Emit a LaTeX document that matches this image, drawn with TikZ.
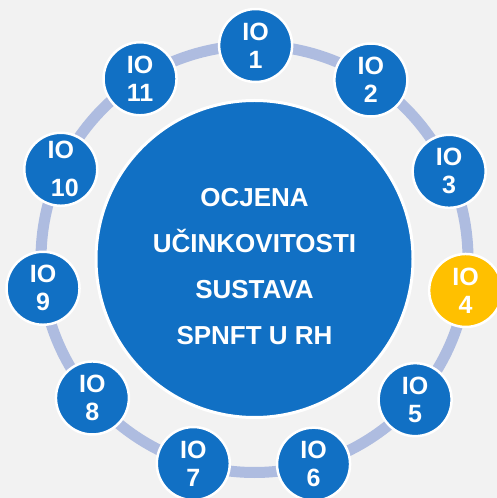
\documentclass[tikz,border=0pt]{standalone}
\usepackage{fontspec}
\setmainfont{Liberation Sans}
\definecolor{bg}{RGB}{242,242,242}
\definecolor{ioblue}{RGB}{17,112,196}
\definecolor{ioyellow}{RGB}{255,192,0}
\definecolor{ringblue}{RGB}{174,188,224}

\begin{document}
\begin{tikzpicture}[x=1pt,y=1pt,
  ionode/.style={circle, fill=ioblue, draw=white, line width=2.5pt,
    minimum size=73pt, inner sep=0pt, text=white, align=center,
    font=\fontsize{25}{28}\selectfont\bfseries},
  iohigh/.style={ionode, fill=ioyellow},
  core/.style={circle, fill=ioblue, draw=white, line width=3pt,
    minimum size=317pt, inner sep=0pt},
  coretext/.style={text=white, align=center, inner sep=0pt,
    font=\fontsize{26}{46}\selectfont\bfseries},
  ring/.style={draw=ringblue, line width=11pt}]
% background and page size
\fill[bg] (0,0) rectangle (497,498);
\useasboundingbox (0,0) rectangle (497,498);
\coordinate (c) at (254.5,239);
% connecting ring behind the outcome circles
\draw[ring] (c) circle (213.5);
% central circle
\node[core] (core) at (c) {};
\node[coretext] (coretxt) at ([yshift=-7.5pt]core.center)
  {OCJENA\\UČINKOVITOSTI\\SUSTAVA\\SPNFT U RH};
% immediate outcomes around the ring
\node[ionode] (io1)  at ([shift={(89.70:213.5)}]c)  {IO\\1};
\node[ionode] (io2)  at ([shift={(56.97:213.5)}]c)  {IO\\2};
\node[ionode] (io3)  at ([shift={(24.25:213.5)}]c)  {IO\\3};
\node[iohigh] (io4)  at ([shift={(-8.48:213.5)}]c)  {IO\\4};
\node[ionode] (io5)  at ([shift={(-41.21:213.5)}]c) {IO\\5};
\node[ionode] (io6)  at ([shift={(-73.94:213.5)}]c) {IO\\6};
\node[ionode] (io7)  at ([shift={(-106.66:213.5)}]c) {IO\\7};
\node[ionode] (io8)  at ([shift={(-139.39:213.5)}]c) {IO\\8};
\node[ionode] (io9)  at ([shift={(-172.12:213.5)}]c) {IO\\9};
\node[ionode] (io10) at ([shift={(155.15:213.5)}]c) {IO\\[10pt]\hspace*{8pt}10};
\node[ionode] (io11) at ([shift={(122.42:213.5)}]c) {IO\\11};
\end{tikzpicture}
\end{document}
